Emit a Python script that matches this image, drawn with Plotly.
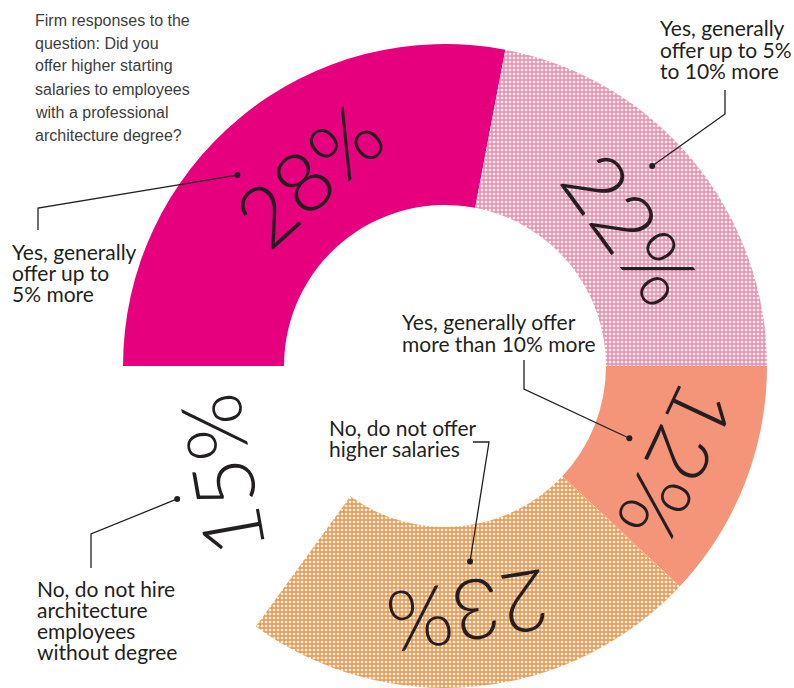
import math
import plotly.graph_objects as go

# ---- data -------------------------------------------------------------
categories = [
    "Yes, generally offer up to 5% more",
    "Yes, generally offer up to 5% to 10% more",
    "Yes, generally offer more than 10% more",
    "No, do not offer higher salaries",
    "No, do not hire architecture employees without degree",
]
shares = [28, 22, 12, 23, 15]
label_lines = [
    ["Yes, generally", "offer up to", "5% more"],
    ["Yes, generally", "offer up to 5%", "to 10% more"],
    ["Yes, generally offer", "more than 10% more"],
    ["No, do not offer", "higher salaries"],
    ["No, do not hire", "architecture", "employees", "without degree"],
]
title_lines = [
    "Firm responses to the",
    "question: Did you",
    "offer higher starting",
    "salaries to employees",
    "with a professional",
    "architecture degree?",
]

# ---- style ------------------------------------------------------------
W, H = 794, 688
CX, CY, R = 445, 366, 322          # donut centre and outer radius (px)
HOLE = 0.5
START = 270                        # first slice starts at 9 o'clock, clockwise
INK = "#231F20"

slice_colors = ["#E6007E", "#F291AE", "#F4957A", "#F59A52", "rgba(0,0,0,0)"]
pattern_shapes = ["", ".", "", ".", ""]

# big percentage text: angular nudge (deg), radius (px), rotation (deg)
pct_nudge = [4, 3, 1, 0, 1]
pct_radius = [235, 232, 252, 248, 250]
pct_angle = [-42, 54, 115, 171, -100]

# leader lines: dot angular nudge, dot radius, then elbow points (px)
dot_nudge = [-7.8, -4.4, -0.2, -1.9, 0.6]
dot_radius = [282, 288, 198, 197, 299]
elbows = [
    [(38, 208), (38, 230)],
    [(725, 114), (725, 90)],
    [(524, 389), (524, 360)],
    [(489, 442), (473, 442)],
    [(91, 534), (91, 568)],
]
# label blocks: left x and first-line centre y (px), line step
label_pos = [(10, 251), (658, 28), (400, 322), (327, 427), (35, 588)]
LINE_STEP = 21.3
LABEL_FONT = dict(family="Lato, Liberation Sans, sans-serif", size=21, color=INK)


def px(x, y):
    return x / W, 1 - y / H


def polar(theta_deg, r):
    t = math.radians(theta_deg)
    return CX + r * math.sin(t), CY - r * math.cos(t)


# mid angle of each slice, clockwise from 12 o'clock
mids = []
acc = 0.0
total = float(sum(shares))
for v in shares:
    mids.append(START + (acc + v / 2) / total * 360)
    acc += v

fig = go.Figure(
    go.Pie(
        labels=categories,
        values=shares,
        sort=False,
        direction="clockwise",
        rotation=START,
        hole=HOLE,
        textinfo="none",
        hoverinfo="skip",
        showlegend=False,
        marker=dict(
            colors=slice_colors,
            line=dict(width=0),
            pattern=dict(
                shape=pattern_shapes,
                bgcolor=slice_colors,
                fgcolor="white",
                size=4,
                solidity=0.35,
                fillmode="replace",
            ),
        ),
        domain=dict(
            x=[(CX - R) / W, (CX + R) / W],
            y=[(H - CY - R) / H, (H - CY + R) / H],
        ),
    )
)

annotations = []
shapes = []

# percentage figures inside the ring
for i, v in enumerate(shares):
    x, y = polar(mids[i] + pct_nudge[i], pct_radius[i])
    xp, yp = px(x, y)
    annotations.append(dict(
        x=xp, y=yp, xref="paper", yref="paper", showarrow=False,
        text=f"{v}%", textangle=pct_angle[i],
        xanchor="center", yanchor="middle",
        font=dict(family="Lato", weight=300, size=84, color=INK),
    ))

# callout leaders and labels
for i in range(len(shares)):
    dx, dy = polar(mids[i] + dot_nudge[i], dot_radius[i])
    pts = [(dx, dy)] + elbows[i]
    path = "M " + " L ".join(
        f"{px(a, b)[0]:.5f},{px(a, b)[1]:.5f}" for a, b in pts
    )
    shapes.append(dict(type="path", xref="paper", yref="paper", path=path,
                       line=dict(color=INK, width=1.3)))
    r = 3
    x0, y0 = px(dx - r, dy + r)
    x1, y1 = px(dx + r, dy - r)
    shapes.append(dict(type="circle", xref="paper", yref="paper",
                       x0=x0, y0=y0, x1=x1, y1=y1,
                       fillcolor=INK, line=dict(width=0)))
    lx, ly = label_pos[i]
    for j, line in enumerate(label_lines[i]):
        xp, yp = px(lx, ly + j * LINE_STEP)
        annotations.append(dict(
            x=xp, y=yp, xref="paper", yref="paper", showarrow=False,
            text=line, xanchor="left", yanchor="middle",
            font=LABEL_FONT,
        ))

# question text, top left
for j, line in enumerate(title_lines):
    xp, yp = px(33, 20 + j * 23)
    annotations.append(dict(
        x=xp, y=yp, xref="paper", yref="paper", showarrow=False,
        text=line, xanchor="left", yanchor="middle",
        font=dict(family="Liberation Sans", size=16, color="#3d3d3d"),
    ))

fig.update_layout(
    width=W, height=H,
    margin=dict(l=0, r=0, t=0, b=0),
    paper_bgcolor="white",
    plot_bgcolor="white",
    annotations=annotations,
    shapes=shapes,
)

fig.write_html("out.html")
